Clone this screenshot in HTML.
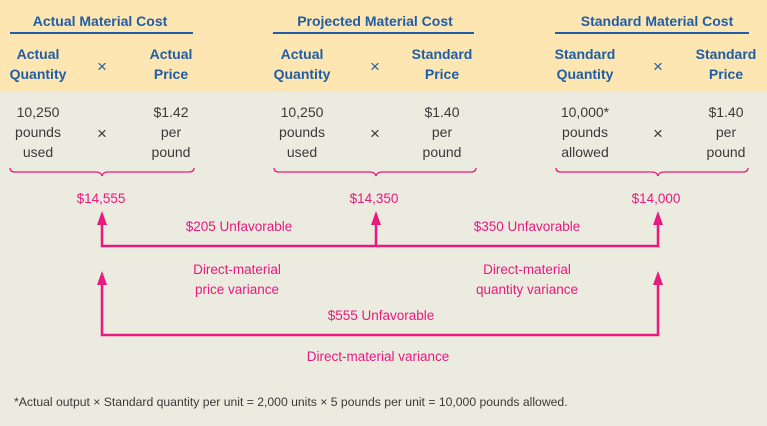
<!DOCTYPE html>
<html><head><meta charset="utf-8"><style>
html,body{margin:0;padding:0;}
body{width:767px;height:426px;overflow:hidden;background:#ecebdf;}
svg{display:block;font-family:"Liberation Sans",sans-serif;}
.h{fill:#1f5da6;font-weight:bold;font-size:14px;}
.b{fill:#3a3a3a;font-size:14px;}
.p{fill:#e8197f;font-size:13.5px;}
</style></head><body>
<svg width="767" height="426" viewBox="0 0 767 426">
<rect x="0" y="0" width="767" height="92" fill="#fde6b2"/>
<rect x="0" y="92" width="767" height="334" fill="#ecebdf"/>
<g class="h" text-anchor="middle">
<text x="100" y="26">Actual Material Cost</text>
<text x="375" y="26">Projected Material Cost</text>
<text x="657" y="26">Standard Material Cost</text>
<text x="38" y="59">Actual</text><text x="38" y="79">Quantity</text>
<text x="171" y="59">Actual</text><text x="171" y="79">Price</text>
<text x="302" y="59">Actual</text><text x="302" y="79">Quantity</text>
<text x="442" y="59">Standard</text><text x="442" y="79">Price</text>
<text x="585" y="59">Standard</text><text x="585" y="79">Quantity</text>
<text x="726" y="59">Standard</text><text x="726" y="79">Price</text>
</g>
<g stroke="#1f5da6" stroke-width="2">
<line x1="10" y1="33" x2="193" y2="33"/>
<line x1="273" y1="33" x2="474" y2="33"/>
<line x1="555" y1="33" x2="749" y2="33"/>
</g>
<g fill="#1f5da6" font-size="17" text-anchor="middle"><text x="102" y="72">×</text><text x="375" y="72">×</text><text x="658" y="72">×</text></g>
<g class="b" text-anchor="middle">
<text x="38" y="117">10,250</text><text x="38" y="137">pounds</text><text x="38" y="157">used</text>
<text x="171" y="117">$1.42</text><text x="171" y="137">per</text><text x="171" y="157">pound</text>
<text x="302" y="117">10,250</text><text x="302" y="137">pounds</text><text x="302" y="157">used</text>
<text x="442" y="117">$1.40</text><text x="442" y="137">per</text><text x="442" y="157">pound</text>
<text x="585" y="117">10,000*</text><text x="585" y="137">pounds</text><text x="585" y="157">allowed</text>
<text x="726" y="117">$1.40</text><text x="726" y="137">per</text><text x="726" y="157">pound</text>
<text x="102" y="139" font-size="17">×</text><text x="375" y="139" font-size="17">×</text><text x="658" y="139" font-size="17">×</text>
</g>
<g fill="none" stroke="#e8197f" stroke-width="1.3">
<path d="M10,168 q0,4 5,4 H96 q5,0 6,4 q1,-4 6,-4 H189 q5,0 5,-4"/>
<path d="M274,168 q0,4 5,4 H370 q5,0 6,4 q1,-4 6,-4 H471 q5,0 5,-4"/>
<path d="M556,168 q0,4 5,4 H652 q5,0 6,4 q1,-4 6,-4 H743 q5,0 5,-4"/>
</g>
<g fill="none" stroke="#e8197f" stroke-width="2.5">
<polyline points="102,222 102,246 658,246 658,222"/>
<line x1="376" y1="222" x2="376" y2="246"/>
<polyline points="102,282 102,335 658,335 658,282"/>
</g>
<g fill="#e8197f">
<polygon points="102,211 97,225 107,225"/>
<polygon points="376,211 371,225 381,225"/>
<polygon points="658,211 653,225 663,225"/>
<polygon points="102,271 97,285 107,285"/>
<polygon points="658,271 653,285 663,285"/>
</g>
<g class="p" text-anchor="middle">
<text x="101" y="203">$14,555</text>
<text x="374" y="203">$14,350</text>
<text x="656" y="203">$14,000</text>
<text x="239" y="231">$205 Unfavorable</text>
<text x="527" y="231">$350 Unfavorable</text>
<text x="237" y="274">Direct-material</text>
<text x="237" y="294">price variance</text>
<text x="527" y="274">Direct-material</text>
<text x="527" y="294">quantity variance</text>
<text x="381" y="320">$555 Unfavorable</text>
<text x="378" y="361">Direct-material variance</text>
</g>
<text x="14" y="406" fill="#3a3a3a" font-size="12.2">*Actual output × Standard quantity per unit = 2,000 units × 5 pounds per unit = 10,000 pounds allowed.</text>
</svg>
</body></html>
